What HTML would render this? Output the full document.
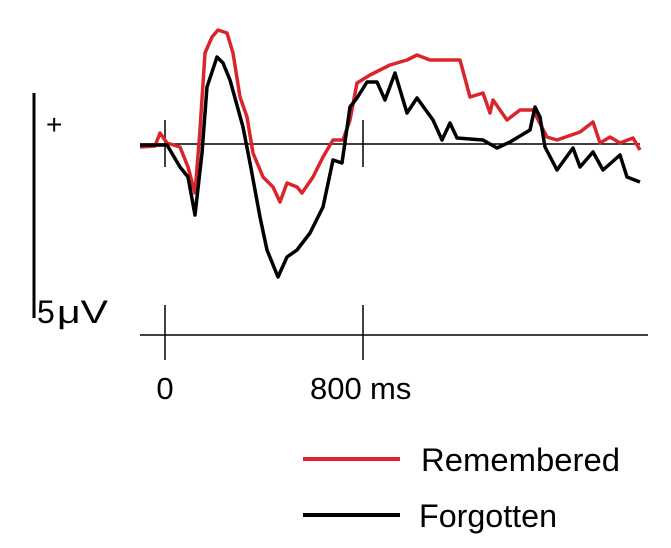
<!DOCTYPE html>
<html><head><meta charset="utf-8"><style>
html,body{margin:0;padding:0;background:#fff;}
svg{display:block;font-family:"Liberation Sans",sans-serif;}
</style></head><body>
<svg width="671" height="548" viewBox="0 0 671 548">
<rect x="32.5" y="93" width="3" height="225" fill="#000"/>
<text x="46" y="134" font-size="28">+</text>
<text x="37" y="323" font-size="32">5</text>
<text x="57" y="323" font-size="32" textLength="51" lengthAdjust="spacingAndGlyphs">μV</text>
<line x1="140" y1="144" x2="640" y2="144" stroke="#000" stroke-width="1.5"/>
<line x1="165" y1="120" x2="165" y2="167" stroke="#000" stroke-width="1.5"/>
<line x1="363" y1="120" x2="363" y2="167" stroke="#000" stroke-width="1.5"/>
<line x1="140" y1="335" x2="648" y2="335" stroke="#000" stroke-width="1.5"/>
<line x1="165" y1="305" x2="165" y2="360" stroke="#000" stroke-width="1.5"/>
<line x1="363" y1="305" x2="363" y2="360" stroke="#000" stroke-width="1.5"/>
<text x="165" y="399" font-size="31" text-anchor="middle">0</text>
<text x="310" y="399" font-size="31">800</text>
<text x="370" y="399" font-size="31">ms</text>
<polyline fill="none" stroke="#d9252b" stroke-width="3.5" stroke-linejoin="round" points="140,147 155,146 160,133 167,143 180,147 188,167 195,193 200,130 205,53 212,37 218,30 227,33 233,53 240,97 247,117 253,153 263,177 273,187 280,202 287,183 297,187 302,193 313,177 323,157 333,140 343,140 350,120 357,83 370,75 390,65 407,60 417,55 430,60 460,60 470,97 483,93 490,113 493,100 507,120 520,110 533,110 547,137 557,140 580,132 593,122 600,143 610,137 620,143 633,138 640,150"/>
<polyline fill="none" stroke="#000" stroke-width="3.5" stroke-linejoin="round" points="140,145 167,145 180,167 188,177 195,215 202,153 207,87 217,57 223,63 230,80 243,127 250,163 260,217 267,250 278,277 287,257 297,250 310,233 323,207 333,160 342,163 350,107 357,98 367,82 377,82 385,100 395,73 407,113 417,98 433,120 442,140 450,123 457,138 483,140 497,148 510,142 530,130 535,107 540,117 545,147 557,170 573,148 580,167 593,152 603,170 620,155 627,177 640,182"/>
<line x1="303" y1="459" x2="400" y2="459" stroke="#d9252b" stroke-width="4"/>
<line x1="303" y1="515" x2="400" y2="515" stroke="#000" stroke-width="4"/>
<text x="421" y="471" font-size="32" textLength="199" lengthAdjust="spacingAndGlyphs">Remembered</text>
<text x="419" y="527" font-size="32" textLength="138" lengthAdjust="spacingAndGlyphs">Forgotten</text>
</svg>
</body></html>
